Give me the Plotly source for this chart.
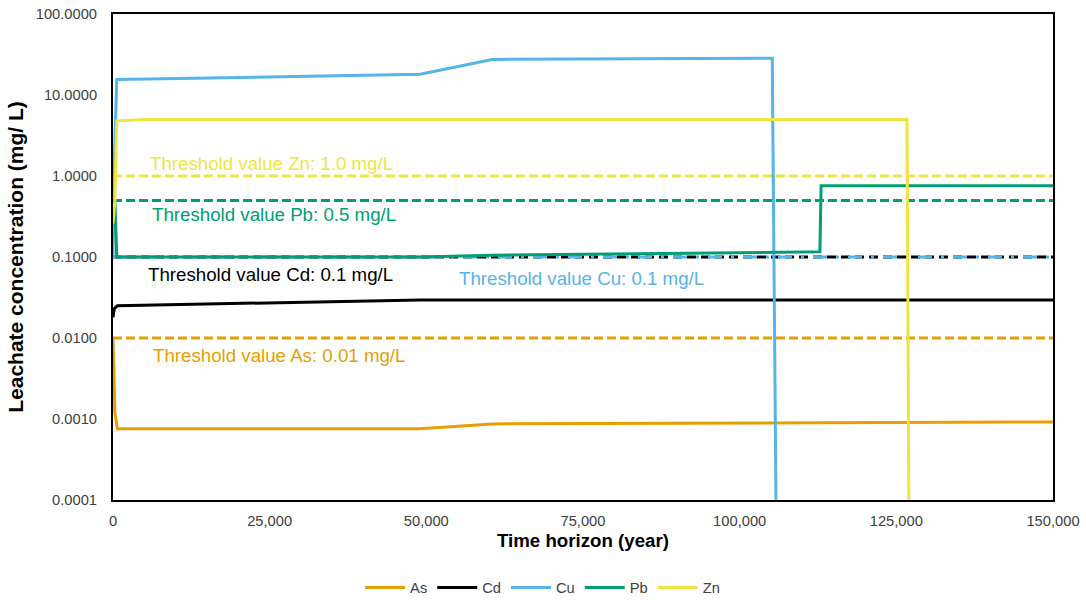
import plotly.graph_objects as go

# ---- data ----
as_x = [0, 300, 700, 49000, 60500, 150000]
as_y = [0.0100, 0.0012, 0.00076, 0.00076, 0.00087, 0.00092]

cd_x = [0, 200, 700, 49000, 60500, 150000]
cd_y = [0.018, 0.023, 0.025, 0.0295, 0.0295, 0.0295]

cu_x = [0, 200, 600, 49000, 60500, 105200, 105800]
cu_y = [0.1, 1.5, 15.5, 18.0, 27.5, 28.5, 0.00009]

pb_x = [0, 300, 600, 49000, 60500, 112800, 113000, 150000]
pb_y = [0.5, 0.5, 0.1, 0.1, 0.105, 0.116, 0.76, 0.76]

zn_x = [0, 300, 600, 5000, 126700, 127000]
zn_y = [0.26, 0.5, 4.8, 5.0, 5.0, 0.00009]

thresholds = {"Zn": 1.0, "Pb": 0.5, "Cd": 0.1, "Cu": 0.1, "As": 0.01}
threshold_labels = {
    "Zn": "Threshold value Zn: 1.0 mg/L",
    "Pb": "Threshold value Pb: 0.5 mg/L",
    "Cd": "Threshold value Cd: 0.1 mg/L",
    "Cu": "Threshold value Cu: 0.1 mg/L",
    "As": "Threshold value As: 0.01 mg/L",
}

y_tickvals = [0.0001, 0.001, 0.01, 0.1, 1, 10, 100]
y_ticktext = ["0.0001", "0.0010", "0.0100", "0.1000", "1.0000", "10.0000", "100.0000"]
x_tickvals = [0, 25000, 50000, 75000, 100000, 125000, 150000]
x_ticktext = ["0", "25,000", "50,000", "75,000", "100,000", "125,000", "150,000"]

colors = {"As": "#E69F00", "Cd": "#000000", "Cu": "#56B4E9", "Pb": "#009E73", "Zn": "#F0E442"}
FONT = "Liberation Sans, Arial"

fig = go.Figure()

# threshold lines
thr_dash = {"Zn": "9px,4px", "Pb": "9px,4px", "Cd": "9px,5px",
            "Cu": "14px,9px,3px,9px", "As": "9px,4px"}
for name in ["Zn", "Pb", "Cd", "Cu", "As"]:
    fig.add_trace(go.Scatter(
        x=[0, 150000], y=[thresholds[name]] * 2, mode="lines",
        line=dict(color=colors[name], width=3, dash=thr_dash[name]),
        showlegend=False, hoverinfo="skip"))

series = [("As", as_x, as_y), ("Cd", cd_x, cd_y), ("Cu", cu_x, cu_y),
          ("Pb", pb_x, pb_y), ("Zn", zn_x, zn_y)]
for name, xs, ys in series:
    fig.add_trace(go.Scatter(x=xs, y=ys, mode="lines", name=name,
                             line=dict(color=colors[name], width=3)))

# annotations
ann_pos = {"Zn": (5600, 0.16), "Pb": (5900, -0.47), "Cd": (5300, -1.21),
           "Cu": (54900, -1.27), "As": (6100, -2.22)}
for name, (ax, ay) in ann_pos.items():
    fig.add_annotation(x=ax, y=ay, text=threshold_labels[name], showarrow=False,
                       xanchor="left", yanchor="middle",
                       font=dict(color=colors[name], size=18.7, family=FONT))

fig.update_layout(
    width=1086, height=600,
    margin=dict(l=113, r=33, t=14, b=100, autoexpand=False),
    plot_bgcolor="white", paper_bgcolor="white",
    font=dict(family=FONT, size=14.7, color="#404040"),
    legend=dict(orientation="h", x=0.457, xanchor="center", y=-0.181, yanchor="middle",
                font=dict(size=14.7, color="#404040"), itemwidth=40),
    showlegend=True,
)
fig.update_xaxes(range=[0, 150000], tickvals=x_tickvals, ticktext=x_ticktext,
                 showline=True, linecolor="black", linewidth=2, mirror=True,
                 showgrid=False, zeroline=False, ticks="", automargin=False,
                 ticklabelstandoff=6,
                 title=dict(text="<b>Time horizon (year)</b>", font=dict(size=18.7, color="black"), standoff=6))
fig.update_yaxes(type="log", range=[-4, 2], tickvals=y_tickvals, ticktext=y_ticktext,
                 showline=True, linecolor="black", linewidth=2, mirror=True,
                 showgrid=False, zeroline=False, ticks="", automargin=False,
                 ticklabelstandoff=11,
                 title=dict(text="<b>Leachate concentration (mg/ L)</b>", font=dict(size=21, color="black"), standoff=6))

fig.write_html("out.html")
